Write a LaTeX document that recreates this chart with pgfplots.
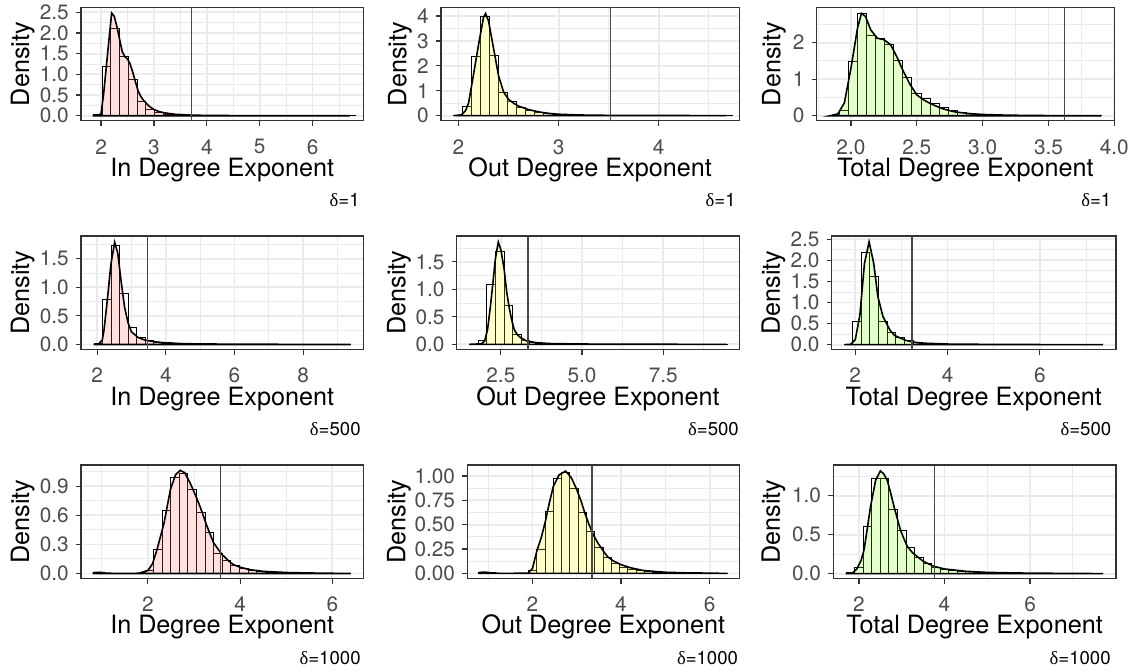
\documentclass[border=0pt]{standalone}
\usepackage{fontspec}
\setmainfont{TeX Gyre Heros}
\newfontfamily\symfont{Liberation Serif}
\usepackage{pgfplots}
\pgfplotsset{compat=1.18}
\definecolor{pinkf}{HTML}{FF6666}
\definecolor{yelf}{HTML}{FFFF00}
\definecolor{grnf}{HTML}{7CFC00}
\definecolor{grayB}{gray}{0.2}
\definecolor{grayT}{gray}{0.3}
\definecolor{gridc}{gray}{0.92}
\pgfplotsset{
 panel/.style={scale only axis, anchor=south west, height=56.7pt,
   axis line style={draw=grayB, line width=0.6pt},
   tick align=outside, xtick pos=left, ytick pos=left,
   major tick length=2.6pt, minor tick length=0pt,
   every tick/.style={draw=grayB, line width=0.6pt},
   grid=both,
   major grid style={draw=gridc, line width=0.9pt},
   minor grid style={draw=gridc, line width=0.45pt},
   tick label style={font=\fontsize{10.4}{11}\selectfont, text=grayT},
   xticklabel style={anchor=center, yshift=-10.5pt},
 },
 hist/.style={ybar interval, fill=white, draw=black, line width=0.45pt},
 dens/.style={draw=black, line width=0.8pt, fill opacity=0.2},
 vl/.style={draw=black!72, line width=0.75pt},
}
\newcommand{\ttl}{\fontsize{12.6}{13}\selectfont}
\newcommand{\dcap}[1]{{\fontsize{9.3}{10}\selectfont{\symfont δ}=#1}}
\begin{document}
\begin{tikzpicture}
\useasboundingbox (0,0) rectangle (566.5pt,-335.5pt);
% ---------------- Row 1 ----------------
\begin{axis}[panel, at={(40.5pt,-60.35pt)}, width=141.15pt,
  xmin=1.62, xmax=6.96, ymin=-0.12, ymax=2.62,
  xtick={2,3,4,5,6}, xticklabels={2,3,4,5,6}, minor xtick={2.5,3.5,4.5,5.5,6.5},
  ytick={0,0.5,1,1.5,2,2.5}, yticklabels={0.0,0.5,1.0,1.5,2.0,2.5}, minor ytick={0.25,0.75,1.25,1.75,2.25}]
\addplot[hist] coordinates {(1.855,0.03)(2.020,1.2)(2.185,2.1)(2.350,1.43)(2.515,0.87)(2.680,0.35)(2.845,0.15)(3.010,0.07)(3.175,0.035)(3.340,0.02)(3.505,0.012)(3.670,0.008)(3.835,0.006)(4.000,0.005)(4.165,0.004)(4.330,0.003)(4.495,0.003)(4.660,0.002)(4.825,0.002)(4.990,0.002)(5.155,0.001)(5.320,0.001)(5.485,0.001)(5.650,0.001)(5.815,0.001)(5.980,0)(6.145,0.001)(6.310,0)(6.475,0)(6.640,0.001)(6.805,0)};
\addplot[dens, fill=pinkf] coordinates {(1.84,0)(1.95,0.01)(2.0,0.05)(2.05,0.55)(2.1,1.2)(2.15,1.85)(2.2,2.48)(2.25,2.4)(2.3,2.15)(2.35,1.85)(2.4,1.55)(2.45,1.43)(2.5,1.37)(2.55,1.25)(2.6,1.05)(2.65,0.82)(2.7,0.6)(2.75,0.47)(2.8,0.38)(2.9,0.24)(3.0,0.15)(3.1,0.1)(3.2,0.07)(3.4,0.035)(3.7,0.015)(4.0,0.008)(4.5,0.004)(5.5,0.002)(6.7,0)} \closedcycle;
\addplot[vl] coordinates {(3.71,-1)(3.71,10)};
\end{axis}
\begin{axis}[panel, at={(220.5pt,-60.35pt)}, width=149.15pt,
  xmin=1.825, xmax=4.805, ymin=-0.205, ymax=4.35,
  xtick={2,3,4}, xticklabels={2,3,4}, minor xtick={2.5,3.5,4.5},
  ytick={0,1,2,3,4}, yticklabels={0,1,2,3,4}, minor ytick={0.5,1.5,2.5,3.5}]
\addplot[hist] coordinates {(1.949,0.02)(2.039,0.37)(2.129,2.37)(2.219,4.0)(2.309,2.43)(2.399,0.95)(2.489,0.55)(2.579,0.33)(2.669,0.22)(2.759,0.14)(2.849,0.09)(2.939,0.06)(3.029,0.04)(3.119,0.03)(3.209,0.02)(3.299,0.015)(3.389,0.012)(3.479,0.01)(3.569,0.008)(3.659,0.006)(3.749,0.005)(3.839,0.004)(3.929,0.003)(4.019,0.003)(4.109,0.002)(4.199,0.002)(4.289,0.001)(4.379,0.001)(4.469,0.001)(4.559,0)(4.649,0.001)(4.739,0)};
\addplot[dens, fill=yelf] coordinates {(1.96,0)(2.03,0.03)(2.07,0.2)(2.1,0.5)(2.15,1.65)(2.2,2.85)(2.25,3.95)(2.27,4.1)(2.3,3.8)(2.35,2.7)(2.4,1.6)(2.45,0.95)(2.5,0.65)(2.55,0.5)(2.6,0.38)(2.7,0.24)(2.8,0.15)(2.9,0.09)(3.0,0.055)(3.2,0.025)(3.5,0.01)(4.0,0.004)(4.67,0)} \closedcycle;
\addplot[vl] coordinates {(3.52,-1)(3.52,10)};
\end{axis}
\begin{axis}[panel, at={(408.35pt,-60.35pt)}, width=148.8pt,
  xmin=1.74, xmax=4.0, ymin=-0.135, ymax=2.965,
  xtick={2,2.5,3,3.5,4}, xticklabels={2.0,2.5,3.0,3.5,4.0}, minor xtick={1.75,2.25,2.75,3.25,3.75},
  ytick={0,1,2}, yticklabels={0,1,2}, minor ytick={0.5,1.5,2.5}]
\addplot[hist] coordinates {(1.845,0.01)(1.913,0.15)(1.982,1.48)(2.051,2.8)(2.120,2.2)(2.188,2.1)(2.257,1.95)(2.326,1.5)(2.394,1.05)(2.463,0.62)(2.532,0.48)(2.600,0.33)(2.669,0.22)(2.738,0.14)(2.806,0.09)(2.875,0.06)(2.944,0.04)(3.013,0.03)(3.081,0.02)(3.150,0.015)(3.219,0.01)(3.287,0.008)(3.356,0.006)(3.425,0.005)(3.493,0.004)(3.562,0.003)(3.631,0.003)(3.699,0.002)(3.768,0.002)(3.837,0.001)(3.905,0)};
\addplot[dens, fill=grnf] coordinates {(1.84,0)(1.9,0.05)(1.95,0.35)(2.0,1.3)(2.05,2.4)(2.08,2.8)(2.11,2.72)(2.15,2.35)(2.2,2.12)(2.25,2.08)(2.3,1.95)(2.35,1.6)(2.4,1.2)(2.45,0.85)(2.5,0.57)(2.55,0.44)(2.6,0.34)(2.65,0.26)(2.7,0.19)(2.75,0.14)(2.8,0.1)(2.9,0.06)(3.0,0.035)(3.2,0.015)(3.5,0.005)(3.9,0)} \closedcycle;
\addplot[vl] coordinates {(3.62,-1)(3.62,10)};
\end{axis}
% ---------------- Row 2 ----------------
\begin{axis}[panel, at={(40.5pt,-174.65pt)}, width=141.15pt,
  xmin=1.53, xmax=9.75, ymin=-0.085, ymax=1.9,
  xtick={2,4,6,8}, xticklabels={2,4,6,8}, minor xtick={3,5,7,9},
  ytick={0,0.5,1,1.5}, yticklabels={0.0,0.5,1.0,1.5}, minor ytick={0.25,0.75,1.25,1.75}]
\addplot[hist] coordinates {(1.91,0.02)(2.159,0.79)(2.408,1.73)(2.657,0.9)(2.906,0.29)(3.155,0.13)(3.404,0.07)(3.653,0.04)(3.902,0.03)(4.151,0.02)(4.400,0.015)(4.649,0.012)(4.898,0.01)(5.147,0.008)(5.396,0.006)(5.645,0.005)(5.894,0.004)(6.143,0.004)(6.392,0.003)(6.641,0.003)(6.890,0.002)(7.139,0.002)(7.388,0.002)(7.637,0.001)(7.886,0.001)(8.135,0.001)(8.384,0.001)(8.633,0)(8.882,0)(9.131,0.001)(9.380,0)};
\addplot[dens, fill=pinkf] coordinates {(1.9,0)(2.05,0.01)(2.15,0.08)(2.2,0.25)(2.3,0.8)(2.4,1.4)(2.51,1.79)(2.6,1.6)(2.7,1.1)(2.8,0.65)(2.9,0.38)(3.0,0.22)(3.2,0.12)(3.4,0.075)(3.7,0.045)(4.0,0.028)(4.5,0.014)(5.0,0.009)(6.0,0.005)(7.0,0.003)(8.0,0.002)(9.38,0)} \closedcycle;
\addplot[vl] coordinates {(3.47,-1)(3.47,10)};
\end{axis}
\begin{axis}[panel, at={(228.35pt,-174.65pt)}, width=141.3pt,
  xmin=1.14, xmax=9.84, ymin=-0.09, ymax=1.97,
  xtick={2.5,5,7.5}, xticklabels={2.5,5.0,7.5}, minor xtick={1.25,3.75,6.25,8.75},
  ytick={0,0.5,1,1.5}, yticklabels={0.0,0.5,1.0,1.5}, minor ytick={0.25,0.75,1.25,1.75}]
\addplot[hist] coordinates {(1.542,0.003)(1.806,0.08)(2.070,1.08)(2.334,1.69)(2.598,0.71)(2.862,0.18)(3.126,0.07)(3.390,0.035)(3.654,0.02)(3.918,0.014)(4.182,0.01)(4.446,0.008)(4.710,0.006)(4.974,0.005)(5.238,0.004)(5.502,0.003)(5.766,0.003)(6.030,0.002)(6.294,0.002)(6.558,0.002)(6.822,0.001)(7.086,0.001)(7.350,0.001)(7.614,0.001)(7.878,0.001)(8.142,0)(8.406,0.001)(8.670,0)(8.934,0)(9.198,0.001)(9.462,0)};
\addplot[dens, fill=yelf] coordinates {(1.53,0)(1.9,0.01)(2.0,0.06)(2.09,0.27)(2.17,0.65)(2.245,1.06)(2.33,1.55)(2.42,1.86)(2.5,1.72)(2.6,1.37)(2.68,0.95)(2.755,0.67)(2.83,0.45)(2.91,0.27)(3.0,0.18)(3.11,0.12)(3.3,0.06)(3.6,0.03)(4.0,0.015)(5.0,0.006)(6.5,0.003)(8.0,0.001)(9.44,0)} \closedcycle;
\addplot[vl] coordinates {(3.34,-1)(3.34,10)};
\end{axis}
\begin{axis}[panel, at={(415.85pt,-174.65pt)}, width=142.15pt,
  xmin=1.49, xmax=7.65, ymin=-0.11, ymax=2.58,
  xtick={2,4,6}, xticklabels={2,4,6}, minor xtick={3,5,7},
  ytick={0,0.5,1,1.5,2,2.5}, yticklabels={0.0,0.5,1.0,1.5,2.0,2.5}, minor ytick={0.25,0.75,1.25,1.75,2.25}]
\addplot[hist] coordinates {(1.756,0.01)(1.943,0.54)(2.130,2.19)(2.317,1.63)(2.504,0.54)(2.691,0.3)(2.878,0.16)(3.065,0.09)(3.252,0.05)(3.439,0.035)(3.626,0.025)(3.813,0.018)(4.000,0.013)(4.187,0.01)(4.374,0.008)(4.561,0.006)(4.748,0.005)(4.935,0.004)(5.122,0.003)(5.309,0.003)(5.496,0.002)(5.683,0.002)(5.870,0.002)(6.057,0.001)(6.244,0.001)(6.431,0.001)(6.618,0.001)(6.805,0)(6.992,0)(7.179,0.001)(7.366,0)};
\addplot[dens, fill=grnf] coordinates {(1.77,0)(1.9,0.01)(2.0,0.12)(2.1,0.7)(2.2,1.93)(2.3,2.44)(2.4,1.93)(2.49,1.14)(2.6,0.67)(2.75,0.35)(2.85,0.22)(2.97,0.16)(3.1,0.1)(3.3,0.055)(3.5,0.035)(4.0,0.015)(5.0,0.006)(6.0,0.003)(7.37,0)} \closedcycle;
\addplot[vl] coordinates {(3.23,-1)(3.23,10)};
\end{axis}
% ---------------- Row 3 ----------------
\begin{axis}[panel, at={(40.5pt,-289.15pt)}, width=141.15pt, height=56.65pt,
  xmin=0.55, xmax=6.67, ymin=-0.05, ymax=1.12,
  xtick={2,4,6}, xticklabels={2,4,6}, minor xtick={1,3,5},
  ytick={0,0.3,0.6,0.9}, yticklabels={0.0,0.3,0.6,0.9}, minor ytick={0.15,0.45,0.75,1.05}]
\addplot[hist] coordinates {(0.822,0.01)(1.008,0.005)(1.194,0)(1.380,0)(1.566,0.001)(1.752,0.002)(1.938,0.03)(2.124,0.25)(2.310,0.65)(2.496,0.99)(2.682,1.03)(2.868,0.87)(3.054,0.63)(3.240,0.42)(3.426,0.21)(3.612,0.13)(3.798,0.085)(3.984,0.055)(4.170,0.035)(4.356,0.025)(4.542,0.015)(4.728,0.01)(4.914,0.008)(5.100,0.005)(5.286,0.004)(5.472,0.003)(5.658,0.002)(5.844,0.002)(6.030,0.001)(6.216,0.001)(6.402,0)};
\addplot[dens, fill=pinkf] coordinates {(0.82,0.008)(0.9,0.012)(1.0,0.01)(1.1,0.004)(1.3,0)(1.8,0.002)(2.0,0.03)(2.1,0.1)(2.2,0.25)(2.35,0.52)(2.49,0.87)(2.6,1.02)(2.7,1.065)(2.8,1.04)(2.92,0.93)(3.03,0.81)(3.14,0.68)(3.28,0.49)(3.42,0.32)(3.6,0.2)(3.75,0.13)(3.86,0.09)(4.0,0.065)(4.2,0.04)(4.5,0.022)(5.0,0.01)(5.5,0.005)(6.0,0.002)(6.4,0)} \closedcycle;
\addplot[vl] coordinates {(3.57,-1)(3.57,10)};
\end{axis}
\begin{axis}[panel, at={(233.65pt,-289.15pt)}, width=136pt, height=56.65pt,
  xmin=0.53, xmax=6.67, ymin=-0.05, ymax=1.112,
  xtick={2,4,6}, xticklabels={2,4,6}, minor xtick={1,3,5},
  ytick={0,0.25,0.5,0.75,1}, yticklabels={0.00,0.25,0.50,0.75,1.00}, minor ytick={0.125,0.375,0.625,0.875}]
\addplot[hist] coordinates {(0.789,0.012)(0.976,0.008)(1.163,0)(1.350,0)(1.537,0.001)(1.724,0.002)(1.911,0.035)(2.098,0.245)(2.285,0.636)(2.472,0.976)(2.659,1.04)(2.846,0.87)(3.033,0.63)(3.220,0.43)(3.407,0.27)(3.594,0.16)(3.781,0.1)(3.968,0.065)(4.155,0.04)(4.342,0.028)(4.529,0.018)(4.716,0.012)(4.903,0.008)(5.090,0.006)(5.277,0.005)(5.464,0.003)(5.651,0.002)(5.838,0.002)(6.025,0.001)(6.212,0.001)(6.399,0)};
\addplot[dens, fill=yelf] coordinates {(0.806,0.01)(0.9,0.014)(1.0,0.01)(1.1,0.004)(1.3,0)(1.9,0.003)(2.0,0.05)(2.1,0.23)(2.2,0.37)(2.285,0.52)(2.38,0.72)(2.47,0.89)(2.6,1.01)(2.75,1.05)(2.88,0.98)(3.0,0.86)(3.1,0.74)(3.19,0.61)(3.28,0.5)(3.37,0.4)(3.48,0.31)(3.6,0.23)(3.7,0.17)(3.82,0.13)(4.0,0.09)(4.2,0.06)(4.5,0.03)(5.0,0.012)(5.5,0.006)(6.0,0.003)(6.4,0)} \closedcycle;
\addplot[vl] coordinates {(3.35,-1)(3.35,10)};
\end{axis}
\begin{axis}[panel, at={(416.65pt,-289.15pt)}, width=141.35pt, height=56.65pt,
  xmin=1.40, xmax=8.01, ymin=-0.06, ymax=1.395,
  xtick={2,4,6}, xticklabels={2,4,6}, minor xtick={3,5,7},
  ytick={0,0.5,1}, yticklabels={0.0,0.5,1.0}, minor ytick={0.25,0.75,1.25}]
\addplot[hist] coordinates {(1.7,0.01)(1.9,0.08)(2.1,0.6)(2.3,1.22)(2.5,1.22)(2.7,0.82)(2.9,0.55)(3.1,0.33)(3.3,0.21)(3.5,0.13)(3.7,0.085)(3.9,0.06)(4.1,0.045)(4.3,0.032)(4.5,0.024)(4.7,0.018)(4.9,0.014)(5.1,0.011)(5.3,0.009)(5.5,0.007)(5.7,0.006)(5.9,0.005)(6.1,0.004)(6.3,0.003)(6.5,0.003)(6.7,0.002)(6.9,0.002)(7.1,0.001)(7.3,0.001)(7.5,0.001)(7.7,0)};
\addplot[dens, fill=grnf] coordinates {(1.69,0)(1.85,0.01)(1.95,0.06)(2.05,0.17)(2.12,0.31)(2.2,0.6)(2.27,0.86)(2.39,1.2)(2.5,1.32)(2.58,1.28)(2.66,1.2)(2.74,1.04)(2.82,0.86)(2.9,0.7)(2.97,0.56)(3.05,0.45)(3.13,0.35)(3.25,0.27)(3.36,0.22)(3.5,0.16)(3.75,0.094)(4.0,0.06)(4.5,0.03)(5.0,0.016)(6.0,0.006)(7.0,0.003)(7.71,0)} \closedcycle;
\addplot[vl] coordinates {(3.77,-1)(3.77,10)};
\end{axis}
% ---------------- labels ----------------
\foreach \x/\y in {11.35/-32, 200/-32, 387/-32, 11.35/-146.3, 199.5/-146.3, 386.65/-146.3, 11.35/-260.8, 199.5/-260.8, 386.65/-260.8}
  \node[rotate=90, inner sep=0pt] at (\x pt,\y pt) {\ttl Density};
\node[inner sep=0pt] at (111.1pt,-84.8pt) {\ttl In Degree Exponent};
\node[inner sep=0pt] at (295.1pt,-84.8pt) {\ttl Out Degree Exponent};
\node[inner sep=0pt] at (482.75pt,-84.8pt) {\ttl Total Degree Exponent};
\node[inner sep=0pt] at (111.1pt,-199.3pt) {\ttl In Degree Exponent};
\node[inner sep=0pt] at (299pt,-199.3pt) {\ttl Out Degree Exponent};
\node[inner sep=0pt] at (486.9pt,-199.3pt) {\ttl Total Degree Exponent};
\node[inner sep=0pt] at (111.1pt,-313.4pt) {\ttl In Degree Exponent};
\node[inner sep=0pt] at (301.65pt,-313.4pt) {\ttl Out Degree Exponent};
\node[inner sep=0pt] at (487.3pt,-313.4pt) {\ttl Total Degree Exponent};
\node[inner sep=0pt, anchor=east] at (180pt,-100pt) {\dcap{1}};
\node[inner sep=0pt, anchor=east] at (368pt,-100pt) {\dcap{1}};
\node[inner sep=0pt, anchor=east] at (555.85pt,-100pt) {\dcap{1}};
\node[inner sep=0pt, anchor=east] at (180.5pt,-214.7pt) {\dcap{500}};
\node[inner sep=0pt, anchor=east] at (369.6pt,-214.7pt) {\dcap{500}};
\node[inner sep=0pt, anchor=east] at (555.8pt,-214.7pt) {\dcap{500}};
\node[inner sep=0pt, anchor=east] at (180.5pt,-329.2pt) {\dcap{1000}};
\node[inner sep=0pt, anchor=east] at (369.2pt,-329.2pt) {\dcap{1000}};
\node[inner sep=0pt, anchor=east] at (555.5pt,-329.2pt) {\dcap{1000}};
\end{tikzpicture}
\end{document}
